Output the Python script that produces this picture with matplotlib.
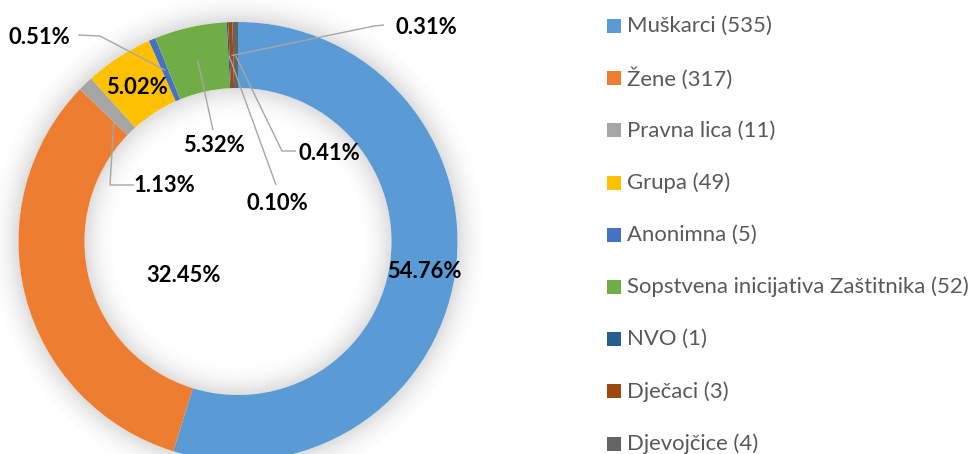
import matplotlib
matplotlib.use('Agg')
import matplotlib.pyplot as plt
from matplotlib.patches import Wedge, Rectangle
import numpy as np

# ---------------- data ----------------
categories = ['Muškarci', 'Žene', 'Pravna lica', 'Grupa', 'Anonimna',
              'Sopstvena inicijativa Zaštitnika', 'NVO', 'Dječaci', 'Djevojčice']
counts = [535, 317, 11, 49, 5, 52, 1, 3, 4]
colors = ['#5B9BD5', '#ED7D31', '#A5A5A5', '#FFC000', '#4472C4',
          '#70AD47', '#255E91', '#9E480E', '#636363']

# ---------------- layout (pixel units, origin top-left) ----------------
W, H = 968, 454
CX, CY = 238, 241.5
R_OUT, R_IN = 219.5, 153.5
# label centre positions and leader waypoints (px, top-left origin), end radius of leader
label_layout = [
    ((424, 272), [], None),
    ((184, 276), [], None),
    ((164, 186), [(134, 185), (110, 185)], 178),
    ((137, 88), [], None),
    ((39, 38), [(78, 35), (100, 36)], 186),
    ((214, 146), [(213, 130)], 186),
    ((277, 203), [(276, 185)], 186),
    ((426, 27), [(384, 25), (374, 26)], 186),
    ((329, 153), [(296, 151), (282, 151)], 186),
]
LEG_X_BOX, LEG_X_TEXT = 607, 627
LEG_Y0, LEG_DY = 26, 52.2


def fy(y):
    return H - y


fig = plt.figure(figsize=(W / 100, H / 100), dpi=100)
ax = fig.add_axes([0, 0, 1, 1])
renderer = fig.canvas.get_renderer()


def fit_size(text, family, weight, target_px, base=12.0):
    t = fig.text(0, 0, text, fontsize=base, family=family, weight=weight)
    w = t.get_window_extent(renderer).width
    t.remove()
    return base * target_px / w


# soft shadow around ring
N = 30
for k in range(N):
    a = 0.26 * (1 - k / N) ** 2
    ax.add_patch(Wedge((CX, fy(CY)), R_OUT + (k + 1), 0, 360, width=1.0,
                       facecolor='#7F7F7F', alpha=a, edgecolor='none', zorder=0))
    ax.add_patch(Wedge((CX, fy(CY)), R_IN - k, 0, 360, width=1.0,
                       facecolor='#7F7F7F', alpha=a, edgecolor='none', zorder=0))

wedges, _ = ax.pie(counts, colors=colors, startangle=90, counterclock=False,
                   radius=R_OUT, center=(CX, fy(CY)),
                   wedgeprops=dict(width=R_OUT - R_IN, edgecolor='none', zorder=2),
                   frame=True)

ax.set_xlim(0, W)
ax.set_ylim(0, H)
ax.set_aspect('auto')
ax.axis('off')

total = sum(counts)
pcts = [c / total * 100 for c in counts]

lab_family = 'Lato'
lab_size = fit_size('54.76%', lab_family, 'bold', 74)
leg_family = 'Lato'
leg_size = fit_size('Sopstvena inicijativa Zaštitnika (52)', leg_family, 'normal', 340)

for i, w in enumerate(wedges):
    (lx, ly), pts, rr = label_layout[i]
    ax.text(lx, fy(ly), f'{pcts[i]:.2f}%', ha='center', va='center',
            fontsize=lab_size, family=lab_family, weight='bold', color='black', zorder=5)
    if pts:
        ang = np.deg2rad((w.theta1 + w.theta2) / 2)
        ex = CX + rr * np.cos(ang)
        ey = fy(CY) + rr * np.sin(ang)
        xs = [p[0] for p in pts] + [ex]
        ys = [fy(p[1]) for p in pts] + [ey]
        ax.plot(xs, ys, color='#A6A6A6', lw=1.0, zorder=4, solid_capstyle='butt')

for i, (name, c) in enumerate(zip(categories, counts)):
    y = LEG_Y0 + i * LEG_DY
    ax.add_patch(Rectangle((LEG_X_BOX, fy(y) - 7), 14, 14, facecolor=colors[i],
                           edgecolor='none', zorder=3))
    ax.text(LEG_X_TEXT, fy(y), f'{name} ({c})', ha='left', va='center',
            fontsize=leg_size, family=leg_family, color='#595959', zorder=3)

fig.savefig('out.png', dpi=100, facecolor='white')
